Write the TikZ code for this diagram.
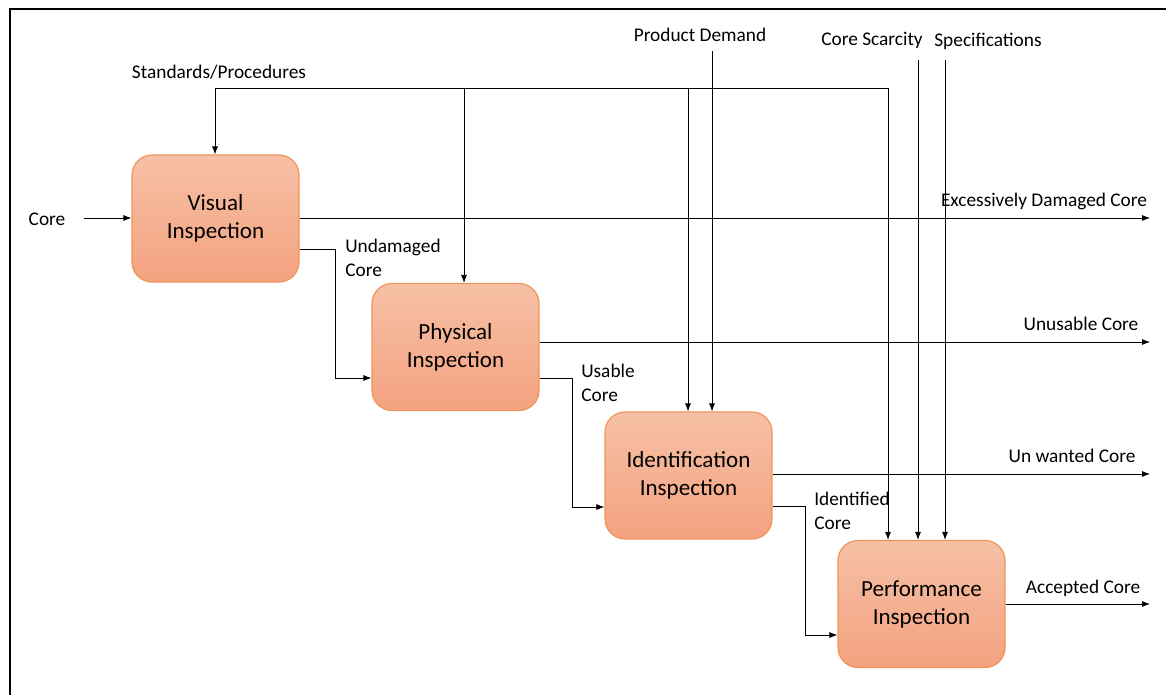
\documentclass[tikz,border=0pt]{standalone}
\usepackage{fontspec}
\setmainfont{Carlito}
\usetikzlibrary{arrows.meta,positioning}
\definecolor{boxtop}{HTML}{F6C0A6}
\definecolor{boxbot}{HTML}{F4A27F}
\definecolor{boxedge}{HTML}{F0955A}
\begin{document}
\begin{tikzpicture}[x=0.75pt,y=-0.75pt,
  proc/.style={draw=boxedge, line width=0.9pt, rounded corners=15pt, top color=boxtop, bottom color=boxbot,
     minimum width=167*0.75pt, minimum height=127*0.75pt, align=center, font=\fontsize{17.3}{21}\selectfont, inner sep=0pt},
  lbl/.style={font=\fontsize{14.5}{18}\selectfont, inner sep=0pt},
  conn/.style={line width=0.6pt, -{Latex[length=6pt,width=4.5pt]}},
  wire/.style={line width=0.6pt}]
\useasboundingbox (0,0) rectangle (1166,694);
\draw[line width=1.6pt] (10,700) -- (10,9) -- (1172,9);

\node[proc] (vis) at (215.5,218.5) {Visual\\Inspection};
\node[proc] (phy) at (455.5,347) {Physical\\Inspection};
\node[proc] (ide) at (688.5,475.5) {Identification\\Inspection};
\node[proc] (per) at (921.5,604) {Performance\\Inspection};

% text labels
\node[lbl] (core) at (47,219) {Core};
\node[lbl] (std) at (219,72) {Standards/Procedures};
\node[lbl] (pd) at (700,35) {Product Demand};
\node[lbl] (cs) at (872,40) {Core Scarcity};
\node[lbl] (sp) at (988,41) {Specifications};
\node[lbl] at (1044,201) {Excessively Damaged Core};
\node[lbl] at (1081,324) {Unusable Core};
\node[lbl] at (1072,456) {Un wanted Core};
\node[lbl] at (1083,588) {Accepted Core};
\node[lbl, anchor=west, align=left] at (345,258) {Undamaged\\Core};
\node[lbl, anchor=west, align=left] at (581,383) {Usable\\Core};
\node[lbl, anchor=west, align=left] at (814,511) {Identified\\Core};

% free ends
\coordinate (coreS) at (84,218);
\coordinate (o1) at (1150,218);
\coordinate (o2) at (1150,342);
\coordinate (o3) at (1150,474);
\coordinate (o4) at (1150,604);
\coordinate (pdS) at (712,51);
\coordinate (csS) at (918,60);
\coordinate (spS) at (945,60);

\draw[conn] (coreS) -- (vis.west |- coreS);
\draw[conn] (vis.east |- o1) -- (o1);
\draw[conn] (phy.east |- o2) -- (o2);
\draw[conn] (ide.east |- o3) -- (o3);
\draw[conn] (per.east |- o4) -- (o4);

% flow between boxes
\draw[conn] (vis.east |- 0,249) -- (335,249) -- (335,378) -- (phy.west |- 0,378);
\draw[conn] (phy.east |- 0,378) -- (572,378) -- (572,507) -- (ide.west |- 0,507);
\draw[conn] (ide.east |- 0,506) -- (805,506) -- (805,635) -- (per.west |- 0,635);

% standards bus
\draw[wire] (215,88) -- (888,88);
\draw[conn] (215,88) -- (vis.north -| 215,0);
\draw[conn] (464,88) -- (phy.north -| 464,0);
\draw[conn] (688,88) -- (ide.north -| 688,0);
\draw[conn] (888,88) -- (per.north -| 888,0);

\draw[conn] (pdS) -- (ide.north -| pdS);
\draw[conn] (csS) -- (per.north -| csS);
\draw[conn] (spS) -- (per.north -| spS);
\end{tikzpicture}
\end{document}
